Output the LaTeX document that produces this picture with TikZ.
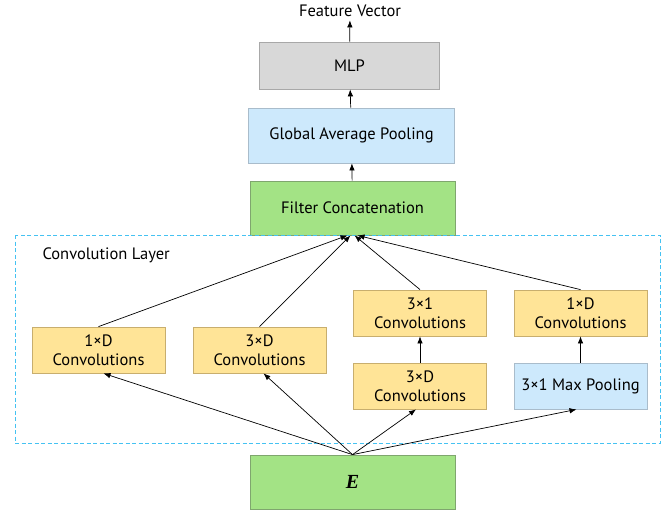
\documentclass[tikz,border=0pt]{standalone}
\usepackage{fontspec}
\usetikzlibrary{arrows.meta}
\setmainfont{PT Sans}
\newfontfamily\eserif{Liberation Serif}
\definecolor{cyellow}{HTML}{FFE497}
\definecolor{cyellowline}{HTML}{C8AE6E}
\definecolor{cgreen}{HTML}{A3E385}
\definecolor{cgreenline}{HTML}{7FA66E}
\definecolor{cblue}{HTML}{CDE9FC}
\definecolor{cblueline}{HTML}{A9BCCB}
\definecolor{cgray}{HTML}{D8D8D8}
\definecolor{cgrayline}{HTML}{A8A8A8}
\definecolor{cdash}{HTML}{45C2F2}

\begin{document}
\begin{tikzpicture}[x=1pt,y=1pt,
    box/.style={draw, line width=0.8pt, inner sep=0pt, align=center, font=\fontsize{16.5}{19}\selectfont},
    convbox/.style={box, fill=cyellow, draw=cyellowline, minimum width=133pt, minimum height=46pt},
    greenbox/.style={box, fill=cgreen, draw=cgreenline, minimum width=205pt, minimum height=54pt},
    conn/.style={-{Latex[length=7pt,width=5.5pt]}, line width=0.7pt}]
    \useasboundingbox (0,0) rectangle (668,-512);
    % top part
    \node (feat) [font=\fontsize{16.5}{19}\selectfont] at (350,-11) {Feature Vector};
    \node [box, fill=cgray, draw=cgrayline, minimum width=180pt, minimum height=47pt] (mlp) at (349.5,-65.5) {MLP};
    \node [box, fill=cblue, draw=cblueline, minimum width=206pt, minimum height=55pt] (gap) at (351.5,-135.5) {Global Average Pooling};
    \node [greenbox] (concat) at (352.5,-208) {Filter Concatenation};
    % convolution layer
    \draw [cdash, dash pattern=on 4pt off 2.5pt, line width=1pt] (15,-235) rectangle (660,-443);
    \node [font=\fontsize{16.5}{19}\selectfont, anchor=west] (layer) at (39,-255) {Convolution Layer};
    \node [convbox] (conva) at (98.5,-350) {1×D\\Convolutions};
    \node [convbox] (convb) at (259.5,-350) {3×D\\Convolutions};
    \node [convbox] (convc) at (420,-313) {3×1\\Convolutions};
    \node [convbox] (convd) at (420,-386) {3×D\\Convolutions};
    \node [convbox] (conve) at (580.5,-313) {1×D\\Convolutions};
    \node [box, fill=cblue, draw=cblueline, minimum width=133pt, minimum height=46pt] (pool) at (580.5,-386) {3×1 Max Pooling};
    % input
    \node [greenbox, font=\eserif\bfseries\itshape\fontsize{20}{22}\selectfont] (emb) at (352.5,-482) {E};
    % arrows
    \draw [conn] (mlp) -- (feat);
    \draw [conn] (gap) -- (mlp);
    \draw [conn] (concat) -- (gap);
    \draw [conn] (conva.north) -- ([xshift=-5pt]concat.south);
    \draw [conn] (convb.north) -- ([xshift=-2pt]concat.south);
    \draw [conn] (convc.north) -- ([xshift=2pt]concat.south);
    \draw [conn] (conve.north) -- ([xshift=5pt]concat.south);
    \draw [conn] (convd) -- (convc);
    \draw [conn] (pool) -- (conve);
    \draw [conn] (emb.north) -- ([xshift=5pt]conva.south);
    \draw [conn] (emb.north) -- ([xshift=4pt]convb.south);
    \draw [conn] (emb.north) -- ([xshift=-4pt]convd.south);
    \draw [conn] (emb.north) -- ([xshift=-4pt]pool.south);
\end{tikzpicture}
\end{document}
